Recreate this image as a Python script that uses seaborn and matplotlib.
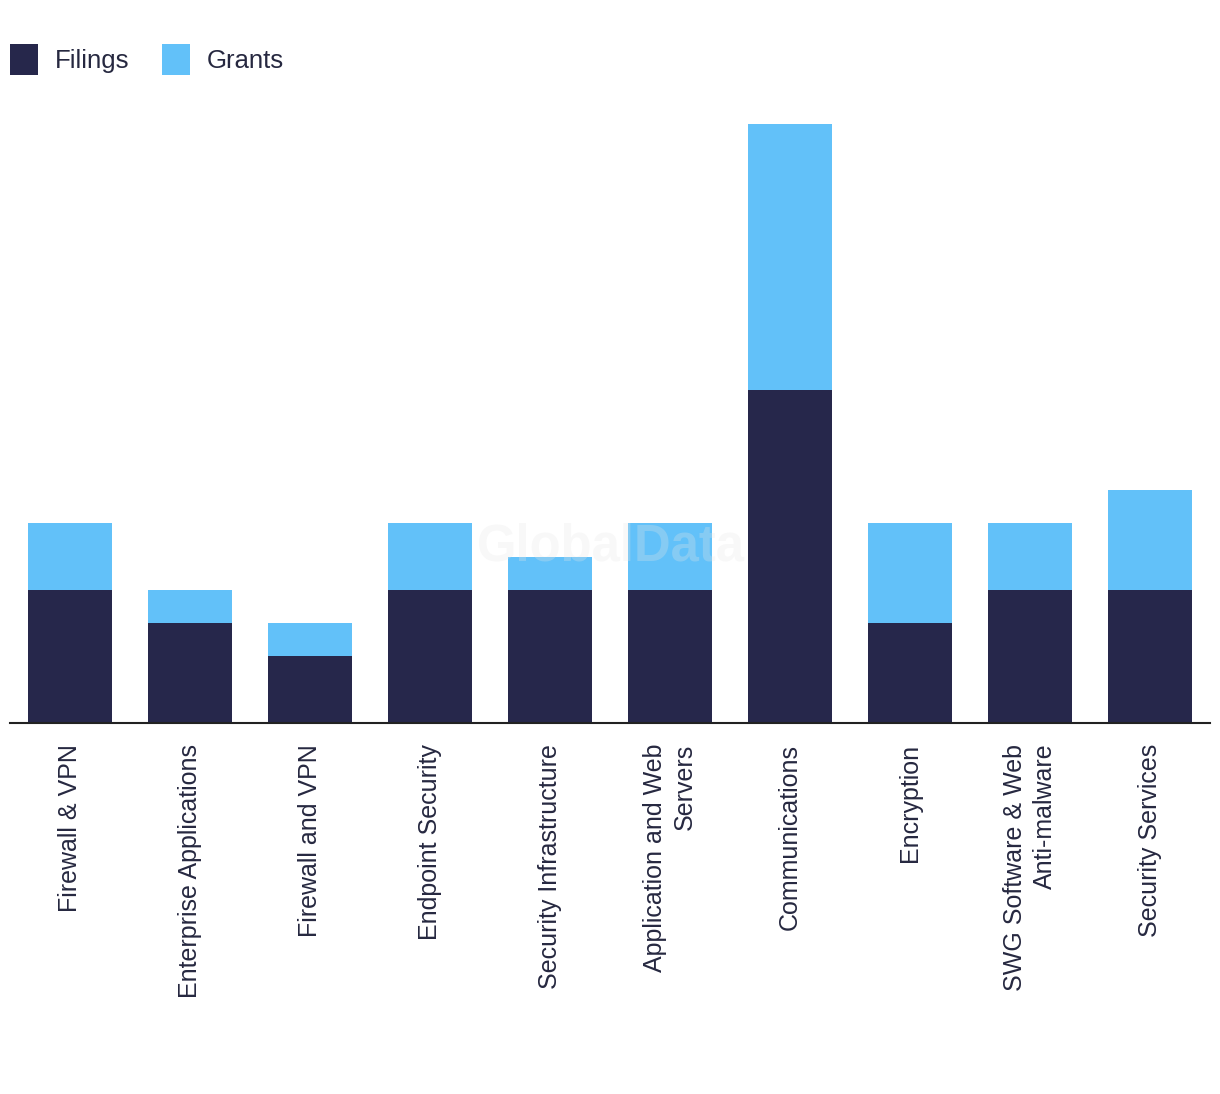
import matplotlib
matplotlib.use("Agg")
import matplotlib.pyplot as plt
import seaborn as sns
import pandas as pd
from matplotlib.patches import Patch

categories = ["Firewall & VPN", "Enterprise Applications", "Firewall and VPN",
              "Endpoint Security", "Security Infrastructure",
              "Application and Web\nServers", "Communications", "Encryption",
              "SWG Software & Web\nAnti-malware", "Security Services"]
filings = [4, 3, 2, 4, 4, 4, 10, 3, 4, 4]
grants = [2, 1, 1, 2, 1, 2, 8, 3, 2, 3]

filings_color = "#26274b"
grants_color = "#62c1f9"
text_color = "#262840"

sns.set_theme(style="white")
plt.rcParams['font.family'] = ['Liberation Sans', 'DejaVu Sans']

df = pd.DataFrame({"category": categories, "filings": filings, "grants": grants})
df["total"] = df["filings"] + df["grants"]

W, H = 1220, 1094
fig = plt.figure(figsize=(W / 100, H / 100), dpi=100)
ax = fig.add_axes([10 / W, 1 - 723 / H, 1200 / W, (723 - 124) / H])

sns.barplot(data=df, x="category", y="total", color=grants_color, width=0.7,
            saturation=1, linewidth=0, ax=ax)
sns.barplot(data=df, x="category", y="filings", color=filings_color, width=0.7,
            saturation=1, linewidth=0, ax=ax)

ax.set_xlim(-0.5, len(categories) - 0.5)
ax.set_ylim(0, 18)
ax.set_xlabel("")
ax.set_ylabel("")
ax.set_yticks([])
for s in ["top", "right", "left"]:
    ax.spines[s].set_visible(False)
ax.spines["bottom"].set_color("#222222")
ax.spines["bottom"].set_linewidth(1.5)
ax.tick_params(axis="x", length=0, pad=15)
ax.set_xticks(range(len(categories)))
ax.set_xticklabels(categories, rotation=90, ha="center", va="top",
                   multialignment="right", fontsize=18, color=text_color,
                   linespacing=1.3)

# watermark
fig.text(611 / W, 1 - 547 / H, "GlobalData", ha="center", va="center",
         fontsize=36.5, fontweight="bold", color="#e6e6e6", alpha=0.28,
         family=["Liberation Sans", "DejaVu Sans"], zorder=10)

handles = [Patch(facecolor=filings_color, linewidth=0, label="Filings"),
           Patch(facecolor=grants_color, linewidth=0, label="Grants")]
fig.legend(handles=handles, loc="upper left", bbox_to_anchor=(10 / W, 1 - 44 / H),
           ncol=2, frameon=False, handlelength=1.1, handleheight=1.45,
           handletextpad=0.66, columnspacing=1.25, borderpad=0, borderaxespad=0,
           prop={"family": ["Liberation Sans", "DejaVu Sans"], "size": 18.5},
           labelcolor=text_color)

fig.savefig("out.png", dpi=100)
